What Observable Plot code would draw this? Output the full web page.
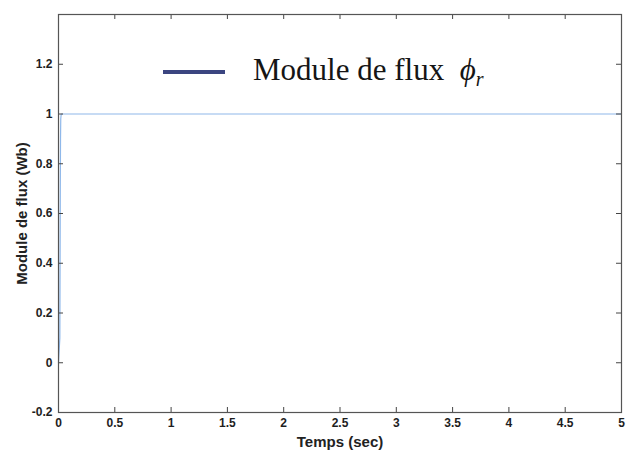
<!DOCTYPE html>
<html>
<head>
<meta charset="utf-8">
<script src="https://cdn.jsdelivr.net/npm/d3@7"></script>
<script src="https://cdn.jsdelivr.net/npm/@observablehq/plot@0.6"></script>
<style>
  html, body { margin: 0; padding: 0; background: #fff; }
  #wrap { position: relative; width: 629px; height: 452px; }
  #legend { position: absolute; left: 163px; top: 52px; display: flex; align-items: center;
            font-family: "Liberation Serif", "Times New Roman", serif; font-size: 31px; color: #151515; white-space: nowrap; }
  #legend svg { margin-right: 28px; }
  g[aria-label="x-axis label"] text, g[aria-label="y-axis label"] text { font-size: 15px; font-weight: bold; fill: #222; }
</style>
</head>
<body>
<div id="wrap">
  <div id="chart"></div>
  <div id="legend"><svg width="62" height="8"><line x1="0" x2="62" y1="4" y2="4" stroke="#3b4580" stroke-width="4"/></svg><span>Module de flux&nbsp; <i>ϕ<sub style="font-size:20px;vertical-align:-6px">r</sub></i></span></div>
</div>
<script>
// Data
const time = [0, 0.012, 0.014, 0.016, 0.018, 0.02, 0.024, 1, 2, 3, 4, 5];
const flux = [0, 0.1, 0.4, 0.7, 0.9, 0.98, 1, 1, 1, 1, 1, 1];
const xTicks = [0, 0.5, 1, 1.5, 2, 2.5, 3, 3.5, 4, 4.5, 5];
const yTicks = [-0.2, 0, 0.2, 0.4, 0.6, 0.8, 1, 1.2];
const xDomain = [0, 5];
const yDomain = [-0.2, 1.4];
const xLabel = "Temps (sec)";
const yLabel = "Module de flux (Wb)";
const legendLabel = "Module de flux ϕr";

const data = time.map((t, i) => ({t, v: flux[i]}));

const W = 629, H = 452;
const mL = 58, mR = 8, mT = 14, mB = 40;
const pw = W - mL - mR, ph = H - mT - mB;
const tl = 5;

const chart = Plot.plot({
  width: W, height: H,
  marginLeft: mL, marginRight: mR, marginTop: mT, marginBottom: mB,
  style: {fontFamily: "'Liberation Sans', Arial, sans-serif", fontSize: "12px", fontWeight: "bold", color: "#1e1e1e", background: "#fff"},
  x: {domain: xDomain},
  y: {domain: yDomain},
  marks: [
    Plot.line(data, {x: "t", y: "v", stroke: "#8fb8ea", strokeWidth: 1.2}),
    Plot.tickX(xTicks, {x: d => d, insetTop: ph - tl, stroke: "#444"}),
    Plot.tickX(xTicks, {x: d => d, insetBottom: ph - tl, stroke: "#444"}),
    Plot.tickY(yTicks, {y: d => d, insetRight: pw - tl, stroke: "#444"}),
    Plot.tickY(yTicks, {y: d => d, insetLeft: pw - tl, stroke: "#444"}),
    Plot.frame({stroke: "#555", strokeWidth: 1.2}),
    Plot.axisX({ticks: xTicks, tickSize: 0, tickPadding: 6, tickFormat: d => String(d), label: xLabel, labelAnchor: "center", labelArrow: "none", labelOffset: 34}),
    Plot.axisY({ticks: yTicks, tickSize: 0, tickPadding: 6, tickFormat: d => String(+d.toFixed(1)), label: yLabel, labelAnchor: "center", labelArrow: "none", labelOffset: 42})
  ]
});
document.getElementById("chart").appendChild(chart);
</script>
</body>
</html>
